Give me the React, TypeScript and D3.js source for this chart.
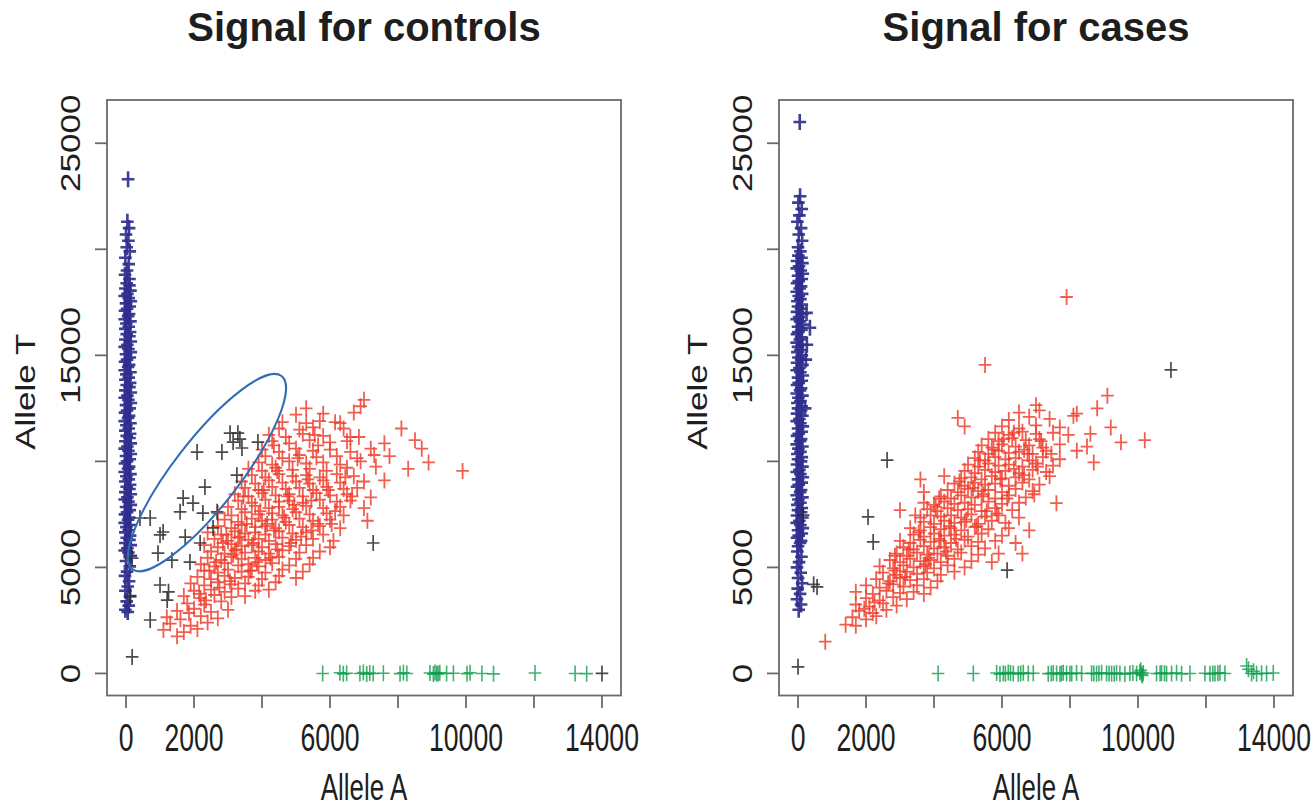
import React from "react";
import * as d3 from "d3";

type P = [number, number];

// ---------- axes / text ----------
const xTicks = [0, 2000, 4000, 6000, 8000, 10000, 12000, 14000];
const xTickLabels = ["0", "2000", "", "6000", "", "10000", "", "14000"];
const yTicks = [0, 5000, 10000, 15000, 20000, 25000];
const yTickLabels = ["0", "5000", "", "15000", "", "25000"];
const titles = ["Signal for controls", "Signal for cases"];
const xLabel = "Allele A";
const yLabel = "Allele T";

// ---------- controls ----------
const controlsBlue: P[] = [
  [60, 23300], [40, 21300], [90, 21000], [0, 20700], [70, 20400], [20, 20100], [110, 19900], [-20, 19600],
  [80, 19300], [30, 19000], [-30, 18800], [100, 18600],
  [20, 18400], [100, 18300], [-20, 18150], [130, 18050], [40, 17900], [-40, 17800], [80, 17700], [140, 17550],
  [0, 17450], [110, 17300], [30, 17200], [-30, 17100], [90, 16950], [60, 16850], [-40, 16700], [130, 16600],
  [10, 16500], [80, 16350], [-20, 16250], [120, 16100], [20, 16000], [100, 15900], [-20, 15750], [140, 15650],
  [40, 15500], [-40, 15400], [70, 15300], [140, 15150], [0, 15050], [110, 14900], [30, 14800], [-30, 14700],
  [90, 14550], [60, 14450], [-40, 14300], [130, 14200], [10, 14100], [80, 13950], [-20, 13850], [120, 13700],
  [20, 13600], [100, 13500], [-20, 13350], [140, 13250], [40, 13100], [-40, 13000], [70, 12900], [140, 12750],
  [0, 12650], [110, 12500], [30, 12400], [-30, 12300], [90, 12150], [60, 12050], [-40, 11900], [130, 11800],
  [10, 11700], [80, 11550], [-20, 11450], [120, 11300], [20, 11200], [100, 11100], [-20, 10950], [140, 10850],
  [40, 10700], [-40, 10600], [70, 10500], [140, 10350], [0, 10250], [110, 10100], [30, 10000], [-30, 9900],
  [90, 9750], [60, 9650], [-40, 9500], [130, 9400], [10, 9300], [80, 9150], [-20, 9050], [120, 8900],
  [20, 8800], [100, 8700], [-20, 8550], [140, 8450], [40, 8300], [-40, 8200], [70, 8100], [140, 7950],
  [0, 7850], [110, 7700], [30, 7600], [-30, 7500], [90, 7350], [60, 7250], [-40, 7100], [130, 7000],
  [10, 6900], [80, 6750], [-20, 6650], [120, 6500], [20, 6400], [100, 6300], [-20, 6150], [140, 6050],
  [40, 5900], [-40, 5800], [70, 5700], [140, 5550],
  [0, 5300], [110, 5050], [30, 4800], [-30, 4600], [90, 4350], [50, 4100], [-20, 3900], [120, 3650],
  [20, 3400], [80, 3200], [-20, 3000], [50, 2900],
];
const controlsRed: P[] = [
  [1500, 1750], [1100, 2050], [1700, 1950], [2100, 2100], [1300, 2350], [1900, 2250], [2400, 2400],
  [1200, 2650], [1600, 2550], [2200, 2700], [2700, 2600], [1500, 2950], [2000, 3050], [2500, 2900], [3000, 3000],
  [1800, 3300], [2300, 3250], [2800, 3400], [1700, 3650], [2200, 3550], [2600, 3700], [3100, 3600], [3500, 3650],
  [2000, 3900], [2500, 3950], [2900, 3850], [3300, 4000], [3800, 3900], [4200, 3950],
  [1900, 4250], [2300, 4150], [2700, 4300], [3100, 4200], [3500, 4250], [3900, 4150], [4400, 4300],
  [2100, 4550], [2500, 4450], [2900, 4600], [3200, 4500], [3600, 4550], [4000, 4450], [4500, 4600], [5000, 4500],
  [2300, 4850], [2700, 4750], [3000, 4900], [3400, 4800], [3700, 4850], [4100, 4750], [4600, 4900], [5200, 4800],
  [2200, 5150], [2600, 5050], [2900, 5200], [3300, 5100], [3600, 5150], [3900, 5050], [4300, 5200], [4800, 5100], [5400, 5150],
  [2400, 5450], [2800, 5350], [3100, 5500], [3400, 5400], [3800, 5450], [4100, 5350], [4500, 5500], [5000, 5400], [5500, 5450],
  [2500, 5750], [2900, 5650], [3200, 5800], [3500, 5700], [3900, 5750], [4200, 5650], [4600, 5800], [5100, 5700], [5700, 5750],
  [2300, 6050], [2700, 5950], [3100, 6100], [3400, 6000], [3700, 6050], [4000, 5950], [4400, 6100], [4800, 6000], [5300, 6050], [6000, 5950],
  [2600, 6350], [3000, 6250], [3300, 6400], [3600, 6300], [3900, 6350], [4200, 6250], [4600, 6400], [5000, 6300], [5500, 6350], [6100, 6250],
  [2400, 6650], [2800, 6550], [3200, 6700], [3500, 6600], [3800, 6650], [4100, 6550], [4500, 6700], [4900, 6600], [5300, 6650], [5800, 6550],
  [2700, 6950], [3100, 6850], [3400, 7000], [3800, 6900], [4100, 6950], [4400, 6850], [4800, 7000], [5200, 6900], [5700, 6950], [6300, 6850],
  [2900, 7250], [3300, 7150], [3700, 7300], [4000, 7200], [4300, 7250], [4700, 7150], [5100, 7300], [5500, 7200], [6000, 7250], [7100, 7200],
  [2700, 7550], [3100, 7450], [3500, 7600], [3900, 7500], [4300, 7550], [4600, 7450], [5000, 7600], [5400, 7500], [5900, 7550], [6400, 7450],
  [3000, 7850], [3400, 7750], [3800, 7900], [4200, 7800], [4500, 7850], [4900, 7750], [5300, 7900], [5800, 7800], [6300, 7850], [7000, 7800],
  [3300, 8150], [3700, 8050], [4100, 8200], [4500, 8100], [4800, 8150], [5200, 8050], [5700, 8200], [6200, 8100], [6600, 8150],
  [3200, 8450], [3600, 8350], [4000, 8500], [4400, 8400], [4800, 8450], [5200, 8350], [5600, 8500], [6000, 8400], [6500, 8450], [7200, 8300],
  [3500, 8750], [3900, 8650], [4300, 8800], [4700, 8700], [5100, 8750], [5500, 8650], [5900, 8800], [6400, 8700], [6800, 8750],
  [3400, 9050], [3800, 8950], [4200, 9100], [4600, 9000], [5000, 9050], [5400, 8950], [5800, 9100], [6300, 9000], [7000, 9050], [7600, 9100],
  [3700, 9350], [4100, 9250], [4500, 9400], [4900, 9300], [5300, 9350], [5700, 9250], [6200, 9400], [6700, 9300],
  [3600, 9650], [4000, 9550], [4400, 9700], [4900, 9600], [5400, 9650], [5900, 9550], [6500, 9700], [8300, 9650], [9900, 9550],
  [3900, 9950], [4300, 9850], [4800, 10000], [5300, 9900], [5800, 9950], [6300, 9850], [6900, 10000], [8900, 9950],
  [4100, 10250], [4600, 10150], [5100, 10300], [5600, 10200], [6200, 10250], [6800, 10150], [7300, 10300],
  [4000, 10550], [4500, 10450], [5000, 10600], [5500, 10500], [6000, 10550], [6600, 10450], [7200, 10600], [8700, 10600],
  [4300, 10950], [4800, 10850], [5400, 11000], [6000, 10900], [6500, 10950], [7600, 10850], [8500, 11000],
  [4200, 11250], [4700, 11150], [5200, 11300], [5800, 11200], [6600, 11150],
  [4500, 11550], [5100, 11500], [5500, 11600], [6400, 11550], [8100, 11550],
  [4600, 11850], [5300, 11800], [5700, 11900], [6300, 11800], [5000, 12200], [5800, 12250], [6700, 12300],
  [5300, 12500], [6900, 12600], [7000, 12900],
  // off-row points read from the dense core
  [3150, 5600], [3750, 6150], [4350, 6750], [2850, 6150], [4650, 7350], [3550, 7050], [4950, 7950], [4050, 8650],
  [5450, 8150], [3250, 5850], [2650, 5250], [3850, 5250], [4450, 5850], [5150, 6450], [5650, 7050], [6150, 7650],
  [3350, 6450], [3950, 7650], [4750, 8350], [5350, 9150], [2450, 4850], [3050, 4350], [3650, 4850], [4250, 5450],
  [4850, 6150], [5450, 6750], [6050, 7050], [6650, 8350], [4450, 9550], [5050, 10150], [5650, 10750], [4150, 7050],
  [3450, 8350], [2950, 6550], [2150, 3750], [2750, 4050], [1850, 2850], [2350, 3450], [5950, 8650], [6450, 9250],
  [7350, 9750], [4350, 10750], [5550, 11250], [6150, 11850], [6850, 11150], [7750, 10250],
];
const controlsBlack: P[] = [
  [3290, 11330], [3060, 11330], [3150, 10910], [3350, 11050], [3410, 10630], [2820, 10440], [3880, 10910], [2090, 10440],
  [3260, 9350], [2320, 8790], [1680, 8270], [1970, 8030], [1590, 7620], [2260, 7560], [2680, 7620], [710, 7330],
  [410, 7330], [1000, 6530], [1090, 6670], [1740, 6430], [2180, 6150], [2560, 6860], [940, 5670], [1350, 5340],
  [1880, 5250], [180, 5440], [1000, 4170], [1250, 3850], [1210, 3460], [120, 3620], [710, 2520], [180, 780],
  [7270, 6150], [14000, 0],
];
const controlsGreen: P[] = [
  [5785, 0], [6290, 30], [6390, -20], [6490, 10], [6880, 0], [6980, 40], [7080, -30], [7170, 20], [7270, 0],
  [7570, 10], [8060, -10], [8160, 30], [8260, 0], [8940, 20], [9040, -30], [9090, 40], [9140, 0], [9180, -20],
  [9230, 30], [9430, 0], [9630, 10], [10030, -10], [10120, 30], [10470, 0], [10810, -20], [12030, 20],
  [13210, 0], [13550, -10],
];

// ---------- cases ----------
const casesBlue: P[] = [
  [50, 26000], [60, 22500], [10, 22200], [110, 21900], [40, 21600], [-20, 21300], [90, 21000], [20, 20700],
  [120, 20400], [0, 20100], [70, 19900],
  [10, 19700], [100, 19600], [-30, 19450], [130, 19350], [30, 19200], [-40, 19100], [80, 19000], [140, 18850],
  [0, 18750], [110, 18600], [20, 18500], [-30, 18400], [90, 18250], [50, 18150], [-40, 18000], [120, 17900],
  [20, 17800], [70, 17650], [-20, 17550], [110, 17400], [250, 17000], [0, 17300], [90, 17200], [-30, 17050], [130, 16950],
  [30, 16800], [-40, 16700], [60, 16600], [350, 16300], [140, 16450], [0, 16350], [100, 16200], [10, 16100], [-30, 16000],
  [90, 15850], [50, 15750], [-40, 15600], [260, 15500], [130, 15500], [0, 15400], [70, 15250], [-20, 15150], [110, 15000],
  [230, 14800], [10, 14900], [90, 14800], [-30, 14650], [130, 14550], [40, 14400], [-40, 14300], [70, 14200], [140, 14050],
  [0, 13950], [110, 13800], [20, 13700], [-30, 13600], [90, 13450], [60, 13350], [-40, 13200], [130, 13100],
  [10, 13000], [70, 12850], [-20, 12750], [210, 12500], [110, 12600], [0, 12500], [90, 12400], [-30, 12250], [130, 12150],
  [40, 12000], [-40, 11900], [70, 11800], [140, 11650], [0, 11550], [110, 11400], [20, 11300], [-30, 11200],
  [90, 11050], [60, 10950], [-40, 10800], [130, 10700], [10, 10600], [70, 10450], [-20, 10350], [110, 10200],
  [0, 10100], [90, 10000], [-30, 9850], [130, 9750], [40, 9600], [-40, 9500], [70, 9400], [140, 9250],
  [0, 9150], [110, 9000], [20, 8900], [-30, 8800], [90, 8650], [60, 8550], [-40, 8400], [130, 8300],
  [10, 8200], [70, 8050], [-20, 7950], [110, 7800], [0, 7700], [90, 7600], [-30, 7450], [130, 7350],
  [40, 7200], [-40, 7100], [70, 7000], [140, 6850], [0, 6750], [110, 6600], [20, 6500], [-30, 6400],
  [90, 6250], [60, 6150], [0, 6000],
  [-20, 5750], [100, 5500], [30, 5250], [-30, 5000], [80, 4750], [0, 4500], [120, 4250], [-10, 4000],
  [60, 3750], [-30, 3500], [90, 3250], [20, 3000],
];
const casesRed: P[] = [
  [800, 1500], [1400, 2300], [1700, 2250], [1600, 2650], [2000, 2550], [2300, 2700],
  [1800, 2950], [2200, 2850], [2600, 3000], [1700, 3250], [2100, 3150], [2500, 3300], [2900, 3200],
  [2000, 3550], [2400, 3450], [2800, 3600], [3200, 3500],
  [1700, 3850], [2200, 3750], [2600, 3900], [3000, 3800], [3400, 3850], [3700, 3750],
  [2000, 4150], [2400, 4050], [2800, 4200], [3100, 4100], [3500, 4150], [3900, 4050],
  [2300, 4450], [2700, 4350], [3000, 4500], [3300, 4400], [3700, 4450], [4100, 4350],
  [2500, 4750], [2900, 4650], [3200, 4800], [3500, 4700], [3800, 4750], [4200, 4650], [4600, 4800],
  [2400, 5050], [2800, 4950], [3100, 5100], [3400, 5000], [3700, 5050], [4000, 4950], [4400, 5100], [4900, 5000],
  [2700, 5350], [3000, 5250], [3300, 5400], [3600, 5300], [3900, 5350], [4200, 5250], [4600, 5400], [5100, 5300], [5700, 5250],
  [2900, 5650], [3200, 5550], [3500, 5700], [3800, 5600], [4100, 5650], [4400, 5550], [4800, 5700], [5300, 5600], [5900, 5650], [6600, 5650],
  [3100, 5950], [3400, 5850], [3700, 6000], [4000, 5900], [4300, 5950], [4700, 5850], [5100, 6000], [5500, 5900],
  [3000, 6250], [3300, 6150], [3600, 6300], [3900, 6200], [4200, 6250], [4500, 6150], [4900, 6300], [5300, 6200], [5800, 6250], [6400, 6150],
  [3400, 6550], [3700, 6450], [4000, 6600], [4300, 6500], [4600, 6550], [5000, 6450], [5400, 6600], [6000, 6500],
  [3300, 6850], [3600, 6750], [3900, 6900], [4200, 6800], [4500, 6850], [4800, 6750], [5200, 6900], [5600, 6800], [6200, 6850], [6800, 6750],
  [3700, 7150], [4000, 7050], [4300, 7200], [4600, 7100], [4900, 7150], [5300, 7050], [5700, 7200], [6100, 7100],
  [3000, 7700], [3600, 7350], [3900, 7450], [4200, 7400], [4500, 7450], [4800, 7350], [5100, 7500], [5500, 7400], [5900, 7450], [6500, 7350],
  [3800, 7750], [4100, 7650], [4400, 7800], [4700, 7700], [5000, 7750], [5400, 7650], [5800, 7800], [6300, 7700],
  [3700, 8050], [4000, 7950], [4300, 8100], [4600, 8000], [4900, 8050], [5200, 7950], [5600, 8100], [6000, 8000], [6500, 8050], [7600, 8030],
  [4200, 8350], [4500, 8250], [4800, 8400], [5100, 8300], [5400, 8350], [5800, 8250], [6200, 8400], [6700, 8300],
  [3700, 8550], [4400, 8650], [4700, 8550], [5000, 8700], [5300, 8600], [5600, 8650], [6000, 8550], [6400, 8700], [6900, 8600],
  [4600, 8950], [4900, 8850], [5200, 9000], [5500, 8900], [5800, 8950], [6200, 8850], [6600, 9000], [7100, 8900],
  [3600, 9150], [4300, 9300], [4800, 9200], [5100, 9250], [5400, 9150], [5700, 9300], [6000, 9200], [6400, 9250], [6800, 9150], [7400, 9300],
  [4900, 9550], [5200, 9450], [5500, 9600], [5800, 9500], [6100, 9550], [6500, 9450], [6900, 9600], [7300, 9500],
  [5000, 9850], [5300, 9750], [5600, 9900], [5900, 9800], [6200, 9850], [6600, 9750], [7000, 9900], [7500, 9800], [8700, 9950],
  [5200, 10150], [5500, 10050], [5800, 10200], [6100, 10100], [6400, 10150], [6800, 10050], [7200, 10200], [7700, 10100],
  [5300, 10450], [5600, 10350], [5900, 10500], [6200, 10400], [6500, 10450], [6900, 10350], [7300, 10500], [8200, 10500],
  [5400, 10750], [5700, 10650], [6000, 10800], [6400, 10700], [6800, 10750], [7200, 10650], [7700, 10800], [8500, 10700],
  [5600, 11050], [5900, 10950], [6300, 11100], [6700, 11000], [7100, 11050], [8600, 11300], [9500, 10900], [10200, 11000],
  [4900, 11650], [5800, 11350], [6200, 11250], [6600, 11400], [7000, 11300], [7500, 11350], [9200, 11600],
  [6000, 11650], [6500, 11550], [7000, 11700], [7700, 11600], [8100, 12150],
  [4700, 12050], [6200, 11950], [6800, 12100], [7400, 12000],
  [6500, 12300], [7100, 12400], [8200, 12250], [8800, 12500], [7000, 12650], [9100, 13100],
  [5500, 14550], [7900, 17750],
  // off-row points read from the dense core
  [3150, 4550], [3750, 5150], [4350, 5750], [2850, 4850], [4650, 6350], [3550, 6650], [4950, 7250], [4050, 7850],
  [5450, 8450], [5950, 9150], [6350, 9650], [6750, 10350], [7150, 10950], [5150, 8750], [3850, 5450], [4450, 6950],
  [5550, 7650], [6150, 8250], [6650, 9350], [7050, 9750], [5750, 10550], [6350, 11350], [2250, 3350], [2650, 4250],
  [1950, 3050], [3250, 5850], [4150, 6350], [5250, 6950], [5850, 7550], [6950, 8450], [7450, 10350], [7950, 11250],
  [6050, 11050], [6650, 10550], [5350, 10050], [4750, 9050], [4150, 8250], [3450, 7450], [2850, 5550],
];
const casesBlack: P[] = [
  [0, 310], [150, 7470], [460, 4200], [560, 4080], [2060, 7380], [2210, 6200], [2620, 10060], [6150, 4870], [10970, 14310],
];
const casesGreen: P[] = [
  [4120, 0], [5156, 0], [5843, 20], [5940, -30], [6038, 10], [6100, -10], [6185, 40], [6250, 20], [6332, 0],
  [6479, -20], [6550, 0], [6626, 30], [6773, 0], [6920, 10], [7361, -10], [7450, 0], [7508, 20], [7606, 0],
  [7704, -30], [7750, 10], [7802, 30], [7900, 0], [7998, -10], [8050, 0], [8193, 20], [8341, 0], [8635, 10],
  [8700, 0], [8782, -20], [8850, 10], [8929, 30], [9076, 0], [9150, 0], [9223, -10], [9300, -10], [9370, 20],
  [9468, 0], [9615, -30], [9763, 10], [9850, 20], [9959, 0], [10057, 60], [10080, 150], [10106, -40], [10130, -100],
  [10155, 20], [10547, 0], [10650, 0], [10694, 20], [10780, 10], [10841, -10], [10988, 0], [11135, 30], [11282, -20],
  [11529, 0], [11970, 10], [12117, -20], [12200, 0], [12264, 0], [12350, 10], [12411, 30], [12558, 0],
  [13195, 350], [13250, 200], [13342, 0], [13400, 100], [13489, -20], [13636, 10], [13783, 0], [13980, 20],
];

// annotation ellipse (controls panel): centre in data units
const ellipseCenter: P = [2380, 9470];

// ---------- layout ----------
const W = 1314;
const H = 808;
const BOX_TOP = 100;
const BOX_BOTTOM = 695.5;
const BOX_W = 514;
const PANEL_LEFTS = [107, 779];
const xDomain: [number, number] = [-560, 14560];
const yDomain: [number, number] = [-1040, 27040];
const SQ = 0.7;
const SQR = 0.78;
const FONT = "'Liberation Sans', Arial, Helvetica, sans-serif";

const COLORS = {
  blue: "#2f2f8e",
  red: "#ee3a28",
  green: "#0f9e4c",
  black: "#2a2a2a",
  axis: "#6a6a6a",
  text: "#1e1e1e",
  ellipse: "#2f6db4",
};

function plus(px: number, py: number) {
  return `M${px - 6.3},${py}H${px + 6.3}M${px},${py - 8}V${py + 8}`;
}

type PanelProps = {
  left: number;
  title: string;
  blue: P[];
  red: P[];
  green: P[];
  black: P[];
  ellipse?: P;
};

function Panel({ left, title, blue, red, green, black, ellipse }: PanelProps) {
  const x = d3.scaleLinear().domain(xDomain).range([left, left + BOX_W]);
  const y = d3.scaleLinear().domain(yDomain).range([BOX_BOTTOM, BOX_TOP]);
  const cx = left + BOX_W / 2;
  const series: { pts: P[]; color: string; op: number; sw: number }[] = [
    { pts: blue, color: COLORS.blue, op: 0.92, sw: 2.6 },
    { pts: red, color: COLORS.red, op: 0.82, sw: 1.8 },
    { pts: green, color: COLORS.green, op: 0.8, sw: 1.6 },
    { pts: black, color: COLORS.black, op: 0.85, sw: 1.7 },
  ];
  return (
    <g>
      <text x={cx} y={41} textAnchor="middle" fontFamily={FONT} fontWeight="bold" fontSize={40} fill={COLORS.text}>
        {title}
      </text>
      {series.map((s, si) => (
        <g key={si} stroke={s.color} strokeOpacity={s.op} strokeWidth={s.sw} fill="none">
          {s.pts.map((p, i) => (
            <path key={i} d={plus(x(p[0]), y(p[1]))} />
          ))}
        </g>
      ))}
      {ellipse && (
        <ellipse
          cx={0}
          cy={0}
          rx={122}
          ry={33}
          transform={`translate(${x(ellipse[0])},${y(ellipse[1])}) rotate(-52.3)`}
          fill="none"
          stroke={COLORS.ellipse}
          strokeWidth={2}
        />
      )}
      <rect x={left} y={BOX_TOP} width={BOX_W} height={BOX_BOTTOM - BOX_TOP} fill="none" stroke={COLORS.axis} strokeWidth={1.8} />
      {xTicks.map((t, i) => (
        <g key={"xt" + i}>
          <line x1={x(t)} x2={x(t)} y1={BOX_BOTTOM} y2={BOX_BOTTOM + 12.5} stroke={COLORS.axis} strokeWidth={1.8} />
          {xTickLabels[i] && (
            <text
              transform={`translate(${x(t)},${751}) scale(${SQ},1)`}
              textAnchor="middle"
              fontFamily={FONT}
              fontSize={38}
              fill={COLORS.text}
            >
              {xTickLabels[i]}
            </text>
          )}
        </g>
      ))}
      {yTicks.map((t, i) => (
        <g key={"yt" + i}>
          <line x1={left - 12} x2={left} y1={y(t)} y2={y(t)} stroke={COLORS.axis} strokeWidth={1.8} />
          {yTickLabels[i] && (
            <text
              transform={`translate(${left - 27},${y(t)}) scale(${SQR},1) rotate(-90)`}
              textAnchor="middle"
              fontFamily={FONT}
              fontSize={35}
              fill={COLORS.text}
            >
              {yTickLabels[i]}
            </text>
          )}
        </g>
      ))}
      <text
        transform={`translate(${cx},${800}) scale(${SQ},1)`}
        textAnchor="middle"
        fontFamily={FONT}
        fontSize={37}
        fill={COLORS.text}
      >
        {xLabel}
      </text>
      <text
        transform={`translate(${left - 72},${(BOX_TOP + BOX_BOTTOM) / 2 - 6}) scale(${SQR},1) rotate(-90)`}
        textAnchor="middle"
        fontFamily={FONT}
        fontSize={35}
        fill={COLORS.text}
      >
        {yLabel}
      </text>
    </g>
  );
}

export default function App() {
  return (
    <svg
      width={W}
      height={H}
      viewBox={`0 0 ${W} ${H}`}
      style={{ position: "absolute", left: 0, top: 0, background: "#fff" }}
    >
      <rect x={0} y={0} width={W} height={H} fill="#fff" />
      <Panel left={PANEL_LEFTS[0]} title={titles[0]} blue={controlsBlue} red={controlsRed} green={controlsGreen} black={controlsBlack} ellipse={ellipseCenter} />
      <Panel left={PANEL_LEFTS[1]} title={titles[1]} blue={casesBlue} red={casesRed} green={casesGreen} black={casesBlack} />
    </svg>
  );
}
